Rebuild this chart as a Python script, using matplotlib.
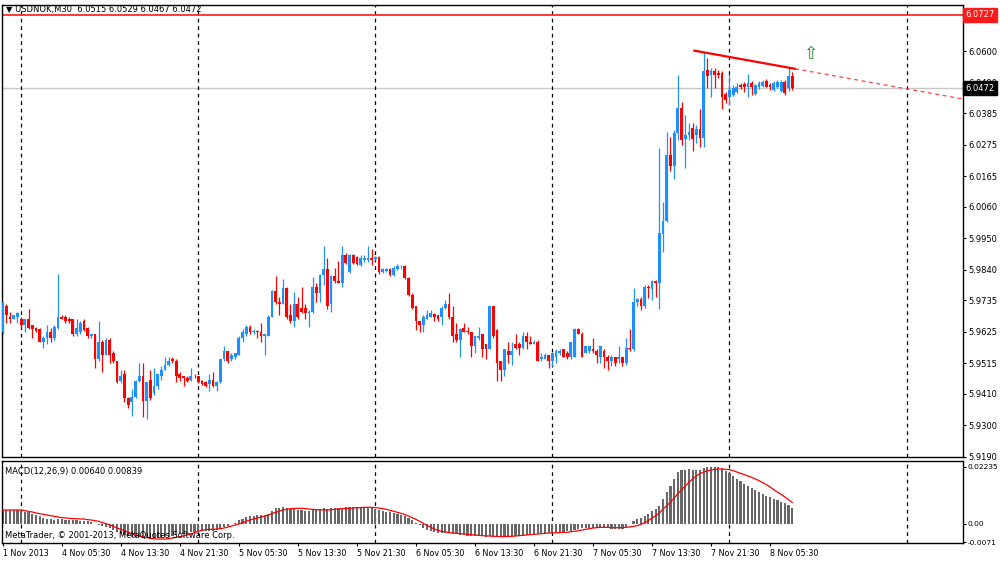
import numpy as np
import matplotlib
matplotlib.use("Agg")
import matplotlib.pyplot as plt
import matplotlib.transforms as mtransforms

# USDNOK M30 bars, 1 Nov 21:30 .. 8 Nov 08:30
opens = [5.9623, 5.9713, 5.9678, 5.9671, 5.9675, 5.9668, 5.9650, 5.9671, 5.9647, 5.9640,
         5.9636, 5.9591, 5.9605, 5.9623, 5.9602, 5.9640, 5.9678, 5.9678, 5.9671, 5.9668,
         5.9619, 5.9623, 5.9664, 5.9640, 5.9609, 5.9616, 5.9529, 5.9591, 5.9546, 5.9598,
         5.9553, 5.9522, 5.9453, 5.9477, 5.9394, 5.9380, 5.9397, 5.9453, 5.9470, 5.9383,
         5.9459, 5.9411, 5.9435, 5.9470, 5.9494, 5.9508, 5.9532, 5.9525, 5.9477, 5.9470,
         5.9466, 5.9456, 5.9473, 5.9470, 5.9453, 5.9449, 5.9442, 5.9456, 5.9435, 5.9449,
         5.9529, 5.9557, 5.9529, 5.9536, 5.9546, 5.9605, 5.9616, 5.9643, 5.9623, 5.9629,
         5.9623, 5.9609, 5.9612, 5.9678, 5.9768, 5.9727, 5.9723, 5.9779, 5.9685, 5.9661,
         5.9720, 5.9709, 5.9709, 5.9692, 5.9695, 5.9782, 5.9761, 5.9824, 5.9845, 5.9720,
         5.9820, 5.9803, 5.9796, 5.9893, 5.9834, 5.9893, 5.9886, 5.9858, 5.9876, 5.9876,
         5.9883, 5.9879, 5.9886, 5.9834, 5.9838, 5.9845, 5.9824, 5.9845, 5.9852, 5.9855,
         5.9813, 5.9754, 5.9713, 5.9661, 5.9647, 5.9671, 5.9678, 5.9688, 5.9682, 5.9678,
         5.9709, 5.9720, 5.9678, 5.9616, 5.9598, 5.9640, 5.9629, 5.9623, 5.9574, 5.9602,
         5.9616, 5.9581, 5.9567, 5.9713, 5.9633, 5.9522, 5.9494, 5.9560, 5.9546, 5.9584,
         5.9584, 5.9570, 5.9612, 5.9591, 5.9584, 5.9591, 5.9529, 5.9532, 5.9543, 5.9522,
         5.9539, 5.9550, 5.9564, 5.9553, 5.9536, 5.9539, 5.9636, 5.9619, 5.9553, 5.9557,
         5.9567, 5.9560, 5.9539, 5.9557, 5.9539, 5.9522, 5.9536, 5.9529, 5.9536, 5.9518,
         5.9570, 5.9567, 5.9727, 5.9740, 5.9713, 5.9782, 5.9775, 5.9803, 5.9796, 5.9966,
         6.0011, 6.0240, 6.0202, 6.0317, 6.0403, 6.0296, 6.0310, 6.0334, 6.0310, 6.0330,
         6.0299, 6.0535, 6.0518, 6.0532, 6.0525, 6.0525, 6.0452, 6.0441, 6.0448, 6.0459,
         6.0483, 6.0487, 6.0476, 6.0490, 6.0452, 6.0476, 6.0480, 6.0497, 6.0483, 6.0466,
         6.0476, 6.0462, 6.0494, 6.0473, 6.0515]
highs = [5.9727, 5.9720, 5.9695, 5.9685, 5.9695, 5.9678, 5.9671, 5.9706, 5.9650, 5.9643,
         5.9640, 5.9609, 5.9647, 5.9640, 5.9650, 5.9827, 5.9682, 5.9682, 5.9675, 5.9671,
         5.9671, 5.9661, 5.9668, 5.9643, 5.9619, 5.9619, 5.9664, 5.9598, 5.9602, 5.9602,
         5.9557, 5.9525, 5.9494, 5.9494, 5.9397, 5.9425, 5.9456, 5.9518, 5.9515, 5.9449,
         5.9494, 5.9498, 5.9480, 5.9505, 5.9536, 5.9536, 5.9539, 5.9532, 5.9484, 5.9473,
         5.9470, 5.9501, 5.9477, 5.9473, 5.9456, 5.9453, 5.9477, 5.9484, 5.9453, 5.9532,
         5.9574, 5.9560, 5.9550, 5.9553, 5.9609, 5.9636, 5.9647, 5.9647, 5.9636, 5.9633,
         5.9654, 5.9619, 5.9682, 5.9772, 5.9820, 5.9747, 5.9810, 5.9782, 5.9720, 5.9765,
         5.9747, 5.9782, 5.9720, 5.9702, 5.9817, 5.9796, 5.9827, 5.9924, 5.9883, 5.9824,
         5.9848, 5.9872, 5.9924, 5.9900, 5.9897, 5.9897, 5.9890, 5.9893, 5.9893, 5.9924,
         5.9914, 5.9890, 5.9890, 5.9848, 5.9848, 5.9848, 5.9852, 5.9862, 5.9858, 5.9858,
         5.9817, 5.9761, 5.9716, 5.9664, 5.9682, 5.9702, 5.9702, 5.9692, 5.9685, 5.9713,
         5.9737, 5.9761, 5.9713, 5.9657, 5.9640, 5.9657, 5.9643, 5.9626, 5.9612, 5.9643,
         5.9619, 5.9584, 5.9716, 5.9716, 5.9636, 5.9525, 5.9567, 5.9588, 5.9588, 5.9616,
         5.9588, 5.9626, 5.9626, 5.9609, 5.9595, 5.9595, 5.9553, 5.9553, 5.9546, 5.9553,
         5.9567, 5.9567, 5.9567, 5.9557, 5.9591, 5.9640, 5.9640, 5.9623, 5.9577, 5.9577,
         5.9602, 5.9564, 5.9577, 5.9564, 5.9543, 5.9546, 5.9539, 5.9574, 5.9539, 5.9602,
         5.9636, 5.9779, 5.9744, 5.9747, 5.9786, 5.9786, 5.9806, 5.9806, 6.0264, 6.0077,
         6.0320, 6.0303, 6.0327, 6.0518, 6.0424, 6.0379, 6.0351, 6.0351, 6.0344, 6.0400,
         6.0597, 6.0577, 6.0542, 6.0542, 6.0535, 6.0532, 6.0459, 6.0521, 6.0483, 6.0490,
         6.0490, 6.0494, 6.0521, 6.0497, 6.0487, 6.0497, 6.0500, 6.0504, 6.0490, 6.0497,
         6.0500, 6.0500, 6.0500, 6.0545, 6.0529]
lows = [5.9619, 5.9657, 5.9657, 5.9668, 5.9657, 5.9640, 5.9626, 5.9636, 5.9605, 5.9626,
        5.9588, 5.9570, 5.9584, 5.9588, 5.9598, 5.9636, 5.9668, 5.9657, 5.9657, 5.9612,
        5.9609, 5.9619, 5.9629, 5.9602, 5.9602, 5.9501, 5.9525, 5.9484, 5.9543, 5.9518,
        5.9518, 5.9446, 5.9446, 5.9380, 5.9362, 5.9331, 5.9394, 5.9449, 5.9328, 5.9321,
        5.9387, 5.9407, 5.9428, 5.9459, 5.9491, 5.9505, 5.9518, 5.9449, 5.9453, 5.9435,
        5.9449, 5.9453, 5.9466, 5.9446, 5.9439, 5.9432, 5.9421, 5.9432, 5.9418, 5.9446,
        5.9525, 5.9518, 5.9525, 5.9532, 5.9543, 5.9588, 5.9612, 5.9619, 5.9616, 5.9602,
        5.9591, 5.9546, 5.9609, 5.9675, 5.9723, 5.9685, 5.9720, 5.9668, 5.9657, 5.9643,
        5.9671, 5.9692, 5.9671, 5.9643, 5.9692, 5.9730, 5.9727, 5.9789, 5.9706, 5.9695,
        5.9796, 5.9793, 5.9782, 5.9862, 5.9831, 5.9862, 5.9858, 5.9855, 5.9869, 5.9869,
        5.9858, 5.9876, 5.9827, 5.9831, 5.9834, 5.9820, 5.9820, 5.9841, 5.9848, 5.9810,
        5.9751, 5.9706, 5.9633, 5.9623, 5.9626, 5.9668, 5.9675, 5.9661, 5.9664, 5.9647,
        5.9706, 5.9668, 5.9591, 5.9588, 5.9539, 5.9623, 5.9616, 5.9539, 5.9553, 5.9598,
        5.9539, 5.9529, 5.9564, 5.9605, 5.9453, 5.9453, 5.9470, 5.9518, 5.9511, 5.9567,
        5.9543, 5.9567, 5.9564, 5.9581, 5.9581, 5.9522, 5.9525, 5.9529, 5.9501, 5.9505,
        5.9518, 5.9546, 5.9536, 5.9532, 5.9532, 5.9536, 5.9616, 5.9536, 5.9550, 5.9553,
        5.9553, 5.9518, 5.9518, 5.9501, 5.9494, 5.9505, 5.9505, 5.9518, 5.9505, 5.9511,
        5.9560, 5.9560, 5.9713, 5.9702, 5.9709, 5.9744, 5.9737, 5.9747, 5.9706, 5.9904,
        6.0008, 6.0185, 6.0157, 6.0292, 6.0275, 6.0195, 6.0292, 6.0254, 6.0282, 6.0268,
        6.0268, 6.0473, 6.0441, 6.0473, 6.0507, 6.0400, 6.0421, 6.0414, 6.0445, 6.0455,
        6.0469, 6.0459, 6.0441, 6.0448, 6.0448, 6.0469, 6.0476, 6.0476, 6.0466, 6.0462,
        6.0473, 6.0459, 6.0448, 6.0462, 6.0467]
closes = [5.9727, 5.9682, 5.9671, 5.9682, 5.9692, 5.9650, 5.9668, 5.9640, 5.9636, 5.9629,
          5.9591, 5.9605, 5.9623, 5.9602, 5.9643, 5.9678, 5.9671, 5.9664, 5.9661, 5.9619,
          5.9640, 5.9657, 5.9633, 5.9609, 5.9616, 5.9529, 5.9591, 5.9546, 5.9598, 5.9546,
          5.9522, 5.9449, 5.9473, 5.9394, 5.9369, 5.9397, 5.9453, 5.9470, 5.9383, 5.9449,
          5.9394, 5.9435, 5.9477, 5.9494, 5.9511, 5.9525, 5.9522, 5.9473, 5.9466, 5.9466,
          5.9453, 5.9470, 5.9470, 5.9449, 5.9442, 5.9435, 5.9456, 5.9435, 5.9449, 5.9529,
          5.9557, 5.9522, 5.9546, 5.9550, 5.9605, 5.9623, 5.9643, 5.9623, 5.9629, 5.9623,
          5.9609, 5.9616, 5.9678, 5.9768, 5.9727, 5.9723, 5.9779, 5.9678, 5.9661, 5.9720,
          5.9675, 5.9695, 5.9692, 5.9695, 5.9782, 5.9761, 5.9824, 5.9845, 5.9713, 5.9820,
          5.9800, 5.9796, 5.9893, 5.9865, 5.9893, 5.9865, 5.9862, 5.9883, 5.9883, 5.9883,
          5.9876, 5.9886, 5.9834, 5.9845, 5.9845, 5.9824, 5.9848, 5.9852, 5.9855, 5.9813,
          5.9754, 5.9709, 5.9661, 5.9647, 5.9678, 5.9685, 5.9692, 5.9675, 5.9668, 5.9709,
          5.9720, 5.9678, 5.9609, 5.9598, 5.9636, 5.9626, 5.9623, 5.9574, 5.9609, 5.9609,
          5.9567, 5.9567, 5.9713, 5.9609, 5.9518, 5.9494, 5.9564, 5.9546, 5.9560, 5.9570,
          5.9570, 5.9612, 5.9588, 5.9584, 5.9591, 5.9525, 5.9536, 5.9543, 5.9522, 5.9553,
          5.9557, 5.9557, 5.9539, 5.9536, 5.9588, 5.9636, 5.9619, 5.9539, 5.9574, 5.9574,
          5.9557, 5.9543, 5.9574, 5.9536, 5.9522, 5.9536, 5.9518, 5.9539, 5.9518, 5.9570,
          5.9567, 5.9727, 5.9740, 5.9716, 5.9782, 5.9779, 5.9803, 5.9796, 5.9970, 6.0011,
          6.0240, 6.0202, 6.0317, 6.0403, 6.0292, 6.0310, 6.0320, 6.0296, 6.0330, 6.0299,
          6.0532, 6.0514, 6.0532, 6.0518, 6.0518, 6.0441, 6.0431, 6.0466, 6.0473, 6.0476,
          6.0476, 6.0476, 6.0490, 6.0476, 6.0483, 6.0490, 6.0494, 6.0476, 6.0476, 6.0490,
          6.0494, 6.0494, 6.0455, 6.0514, 6.0472]

# MACD(12,26,9): main line (drawn as histogram) and signal line
macd_main = [0.00546, 0.00546, 0.00546, 0.00533, 0.00533, 0.00520, 0.00481, 0.00455, 0.00403, 0.00351,
             0.00299, 0.00247, 0.00208, 0.00182, 0.00169, 0.00182, 0.00182, 0.00169, 0.00156, 0.00143,
             0.00143, 0.00130, 0.00130, 0.00104, 0.00065, 0.00002, -0.00039, -0.00091, -0.00117, -0.00169,
             -0.00247, -0.00325, -0.00377, -0.00429, -0.00481, -0.00520, -0.00520, -0.00520, -0.00546, -0.00559,
             -0.00572, -0.00585, -0.00559, -0.00546, -0.00520, -0.00494, -0.00455, -0.00429, -0.00403, -0.00377,
             -0.00351, -0.00325, -0.00299, -0.00273, -0.00273, -0.00273, -0.00260, -0.00260, -0.00247, -0.00195,
             -0.00117, -0.00078, -0.00013, 0.00052, 0.00143, 0.00208, 0.00260, 0.00299, 0.00325, 0.00338,
             0.00351, 0.00351, 0.00403, 0.00520, 0.00611, 0.00637, 0.00676, 0.00637, 0.00585, 0.00585,
             0.00559, 0.00533, 0.00507, 0.00507, 0.00546, 0.00559, 0.00585, 0.00611, 0.00598, 0.00611,
             0.00611, 0.00611, 0.00637, 0.00650, 0.00650, 0.00650, 0.00650, 0.00650, 0.00650, 0.00637,
             0.00611, 0.00585, 0.00546, 0.00507, 0.00481, 0.00455, 0.00416, 0.00377, 0.00351, 0.00312,
             0.00247, 0.00156, 0.00052, -0.00039, -0.00143, -0.00234, -0.00286, -0.00312, -0.00338, -0.00351,
             -0.00351, -0.00364, -0.00390, -0.00403, -0.00429, -0.00442, -0.00455, -0.00455, -0.00468, -0.00468,
             -0.00481, -0.00494, -0.00481, -0.00494, -0.00494, -0.00494, -0.00494, -0.00494, -0.00481, -0.00481,
             -0.00455, -0.00429, -0.00416, -0.00403, -0.00390, -0.00377, -0.00364, -0.00351, -0.00338, -0.00338,
             -0.00325, -0.00312, -0.00299, -0.00286, -0.00260, -0.00221, -0.00182, -0.00169, -0.00156, -0.00143,
             -0.00143, -0.00143, -0.00143, -0.00156, -0.00169, -0.00182, -0.00195, -0.00195, -0.00182, -0.00104,
             -0.00013, 0.00117, 0.00182, 0.00234, 0.00299, 0.00403, 0.00507, 0.00585, 0.00715, 0.00962,
             0.01235, 0.01495, 0.01742, 0.02015, 0.02093, 0.02119, 0.02132, 0.02119, 0.02093, 0.02093,
             0.02171, 0.02210, 0.02235, 0.02235, 0.02235, 0.02171, 0.02067, 0.01976, 0.01859, 0.01742,
             0.01664, 0.01573, 0.01482, 0.01404, 0.01313, 0.01248, 0.01170, 0.01105, 0.01053, 0.00988,
             0.00923, 0.00858, 0.00806, 0.00754, 0.00640]
macd_signal = [0.00546, 0.00546, 0.00546, 0.00546, 0.00546, 0.00546, 0.00520, 0.00494, 0.00468, 0.00429,
               0.00403, 0.00377, 0.00351, 0.00325, 0.00299, 0.00273, 0.00247, 0.00234, 0.00221, 0.00208,
               0.00208, 0.00195, 0.00195, 0.00169, 0.00156, 0.00130, 0.00104, 0.00052, 0.00013, -0.00039,
               -0.00091, -0.00156, -0.00208, -0.00260, -0.00325, -0.00377, -0.00429, -0.00468, -0.00507, -0.00533,
               -0.00559, -0.00572, -0.00585, -0.00585, -0.00585, -0.00572, -0.00546, -0.00520, -0.00494, -0.00468,
               -0.00429, -0.00390, -0.00338, -0.00286, -0.00247, -0.00221, -0.00208, -0.00208, -0.00195, -0.00182,
               -0.00156, -0.00117, -0.00078, -0.00039, 0.00000, 0.00052, 0.00104, 0.00156, 0.00195, 0.00234,
               0.00273, 0.00312, 0.00351, 0.00403, 0.00455, 0.00507, 0.00546, 0.00572, 0.00598, 0.00611,
               0.00611, 0.00611, 0.00598, 0.00585, 0.00572, 0.00559, 0.00559, 0.00546, 0.00546, 0.00559,
               0.00572, 0.00585, 0.00598, 0.00611, 0.00611, 0.00624, 0.00637, 0.00637, 0.00650, 0.00650,
               0.00650, 0.00637, 0.00624, 0.00598, 0.00572, 0.00533, 0.00494, 0.00455, 0.00416, 0.00364,
               0.00312, 0.00247, 0.00182, 0.00104, 0.00026, -0.00052, -0.00130, -0.00195, -0.00247, -0.00286,
               -0.00312, -0.00338, -0.00351, -0.00364, -0.00377, -0.00390, -0.00403, -0.00416, -0.00429, -0.00442,
               -0.00455, -0.00468, -0.00468, -0.00481, -0.00481, -0.00494, -0.00494, -0.00481, -0.00481, -0.00468,
               -0.00455, -0.00442, -0.00429, -0.00416, -0.00403, -0.00390, -0.00377, -0.00364, -0.00351, -0.00351,
               -0.00338, -0.00338, -0.00325, -0.00325, -0.00299, -0.00286, -0.00260, -0.00234, -0.00208, -0.00182,
               -0.00156, -0.00143, -0.00130, -0.00130, -0.00130, -0.00143, -0.00143, -0.00143, -0.00143, -0.00130,
               -0.00117, -0.00091, -0.00065, -0.00013, 0.00052, 0.00130, 0.00234, 0.00325, 0.00429, 0.00585,
               0.00715, 0.00858, 0.01014, 0.01183, 0.01339, 0.01482, 0.01625, 0.01755, 0.01872, 0.01963,
               0.02028, 0.02080, 0.02106, 0.02132, 0.02145, 0.02145, 0.02132, 0.02119, 0.02080, 0.02028,
               0.01976, 0.01924, 0.01872, 0.01820, 0.01755, 0.01690, 0.01612, 0.01534, 0.01443, 0.01339,
               0.01248, 0.01157, 0.01053, 0.00949, 0.00839]

price_ticks = [6.0710, 6.0600, 6.0490, 6.0385, 6.0275, 6.0165, 6.0060, 5.9950,
               5.9840, 5.9735, 5.9625, 5.9515, 5.9410, 5.9300, 5.9190]
macd_ticks = [0.02235, 0.0, -0.0071]
macd_tick_labels = ["0.02235", "0.00", "-0.0071"]
time_labels = ["1 Nov 2013", "4 Nov 05:30", "4 Nov 13:30", "4 Nov 21:30", "5 Nov 05:30",
               "5 Nov 13:30", "5 Nov 21:30", "6 Nov 05:30", "6 Nov 13:30", "6 Nov 21:30",
               "7 Nov 05:30", "7 Nov 13:30", "7 Nov 21:30", "8 Nov 05:30"]
label_step = 16                       # bars between time labels
day_start_bars = [5, 53, 101, 149, 197, 245]   # first bar of 4..9 Nov
level_line = 6.0727
bid_price = 6.0472
trend_a = (187.5, 6.0602)
trend_b = (214.8, 6.0539)
arrow_at = (218.8, 6.0591)

BULL = "#1e90ff"
BEAR = "#ff0000"
FS = 6.0

fig = plt.figure(figsize=(10, 5.61), dpi=100)
fig.patch.set_facecolor("white")
ax = fig.add_axes([0.002, 1 - 457 / 561, 0.961, 452 / 561])
ax2 = fig.add_axes([0.002, 1 - 543 / 561, 0.961, 82 / 561])

o = np.array(opens)
h = np.array(highs)
l = np.array(lows)
c = np.array(closes)
x = np.arange(len(c))
up = c >= o
cols = np.where(up, BULL, BEAR)

ax.vlines(x, l, h, colors=cols, linewidth=0.9, zorder=3)
body = np.maximum(np.abs(c - o), 0.00006)
ax.bar(x, body, bottom=np.minimum(o, c), width=0.75, color=cols, linewidth=0, zorder=3)

xlim = (-0.2, 260.3)
ax.set_xlim(*xlim)
ax.set_ylim(5.91922, 6.07607)

# horizontal lines
ax.axhline(level_line, color="#ff2a2a", lw=1.3, zorder=2)
ax.axhline(bid_price, color="#c8c8c8", lw=1.0, zorder=1)

# trend line, solid between anchors then dashed ray
ax.plot([trend_a[0], trend_b[0]], [trend_a[1], trend_b[1]], color="red", lw=1.6, zorder=4)
slope = (trend_b[1] - trend_a[1]) / (trend_b[0] - trend_a[0])
ax.plot([trend_b[0], xlim[1]], [trend_b[1], trend_b[1] + slope * (xlim[1] - trend_b[0])],
        color="#ff4040", lw=0.9, ls=(0, (3, 3)), zorder=4)

ax.text(arrow_at[0], arrow_at[1], "\u21e7", color="#1a8a1a", fontsize=12.5,
        ha="center", va="center", zorder=5)

# day separators
for d in day_start_bars:
    for a in (ax, ax2):
        a.axvline(d, color="black", lw=0.9, ls=(0, (3, 3)), zorder=1)

ax.yaxis.tick_right()
ax.set_yticks(price_ticks)
ax.set_yticklabels([f"{p:.4f}" for p in price_ticks])
ax.tick_params(axis="y", labelsize=FS, length=2.5, width=0.8, pad=1.5, direction="out")
ax.set_xticks([])
for s in ax.spines.values():
    s.set_linewidth(1.0)

ax.text(0.004, 1.0,
        f"\u25bc USDNOK,M30  {opens[-1]:.4f} {highs[-1]:.4f} {lows[-1]:.4f} {closes[-1]:.4f}",
        transform=ax.transAxes, fontsize=FS, va="top", ha="left")

tr = mtransforms.blended_transform_factory(ax.transAxes, ax.transData)
ax.text(1.0025, level_line, f"{level_line:.4f}", transform=tr, fontsize=FS, color="white",
        va="center", ha="left", clip_on=False, zorder=10,
        bbox=dict(boxstyle="square,pad=0.3", fc="#ff1a1a", ec="#ff1a1a"))
ax.text(1.0025, bid_price, f"{bid_price:.4f}", transform=tr, fontsize=FS, color="white",
        va="center", ha="left", clip_on=False, zorder=10,
        bbox=dict(boxstyle="square,pad=0.3", fc="black", ec="black"))

# MACD window
ax2.bar(x, macd_main, width=0.58, color="#686868", linewidth=0, zorder=2)
ax2.plot(x, macd_signal, color="red", lw=0.9, zorder=3)
ax2.set_xlim(*xlim)
ax2.set_ylim(-0.00741, 0.02457)
ax2.yaxis.tick_right()
ax2.set_yticks(macd_ticks)
ax2.set_yticklabels(macd_tick_labels)
ax2.tick_params(axis="y", labelsize=5.4, length=2.0, width=0.8, pad=1.0, direction="out")
label_pos = np.arange(len(time_labels)) * label_step
ax2.set_xticks(label_pos)
ax2.set_xticklabels(time_labels, ha="left")
ax2.tick_params(axis="x", labelsize=FS - 0.2, length=2.5, width=0.8, pad=1.5, direction="out")
for s in ax2.spines.values():
    s.set_linewidth(1.0)

ax2.text(0.003, 0.93, f"MACD(12,26,9) {macd_main[-1]:.5f} {macd_signal[-1]:.5f}",
         transform=ax2.transAxes, fontsize=FS, va="top", ha="left")
ax2.text(0.003, 0.04, "MetaTrader, \u00a9 2001-2013, MetaQuotes Software Corp.",
         transform=ax2.transAxes, fontsize=FS, va="bottom", ha="left", zorder=6)

fig.savefig("out.png", dpi=100, facecolor="white")
